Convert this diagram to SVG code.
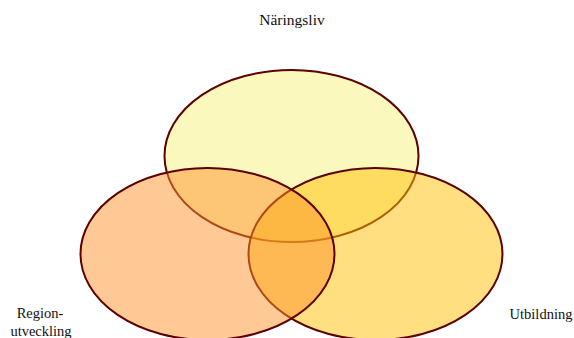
<svg xmlns="http://www.w3.org/2000/svg" width="574" height="338" viewBox="0 0 574 338">
<style>
.e{stroke:#5c0000;stroke-width:2}
.t{font-family:"Liberation Serif","Times New Roman",serif;fill:#111;text-anchor:middle}
</style>
<rect width="574" height="338" fill="#fff"/>
<g id="naringsliv">
<ellipse class="e" cx="291.5" cy="156" rx="127" ry="86" fill="#fbf8be"/>
<text class="t" x="292" y="25" font-size="15.5">Näringsliv</text>
</g>
<g id="utbildning">
<ellipse class="e" cx="375.5" cy="254" rx="127" ry="86" fill="#ffc000" fill-opacity="0.5"/>
<text class="t" x="541" y="319" font-size="14.5">Utbildning</text>
</g>
<g id="regionutveckling">
<ellipse class="e" cx="207.5" cy="254" rx="127" ry="86" fill="#fd9329" fill-opacity="0.5"/>
<text class="t" x="40" y="318" font-size="14.5">Region-</text>
<text class="t" x="41" y="336" font-size="14.5">utveckling</text>
</g>
<g id="connectors"/>
</svg>
